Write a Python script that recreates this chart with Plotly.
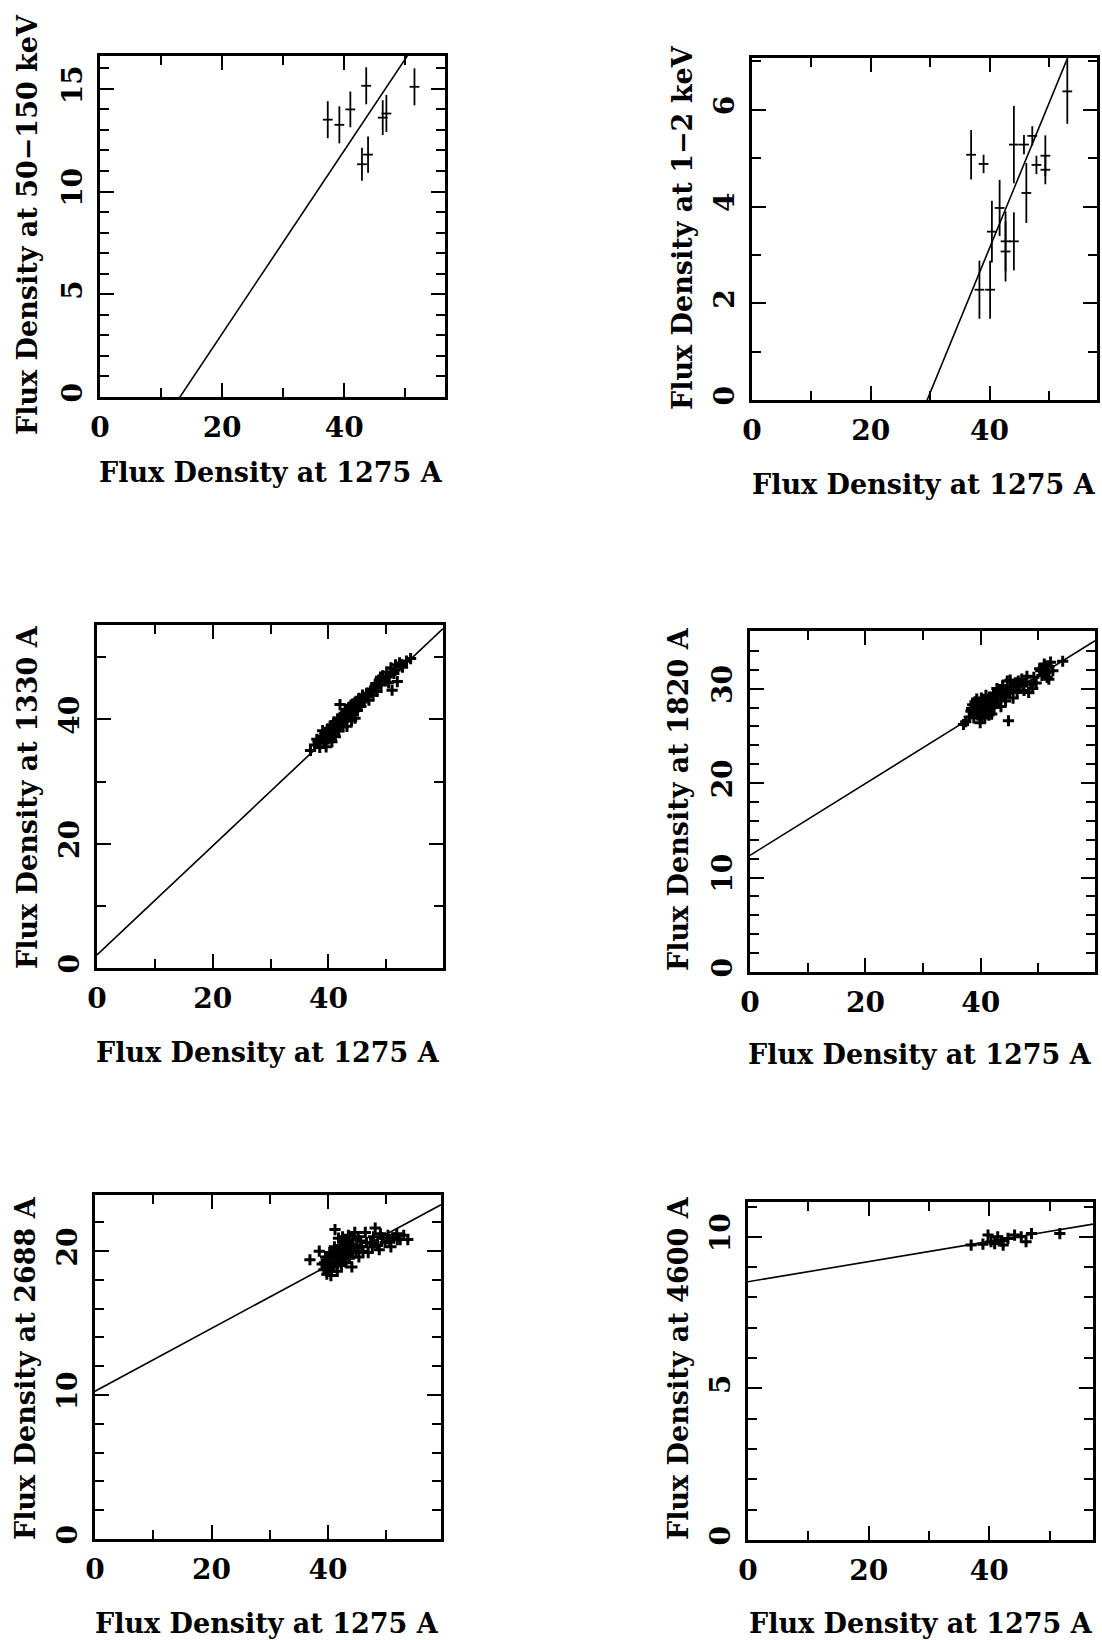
import plotly.graph_objects as go

W, H = 1102, 1640
FONT = "DejaVu Serif"

# ---------------- data ----------------
# Panel 1: 50-150 keV vs 1275 A (points with vertical error bars)
p1_x = [37.3, 39.2, 41.0, 43.6, 42.9, 43.9, 46.3, 46.9, 51.5]
p1_y = [13.5, 13.25, 14.0, 15.15, 11.33, 11.8, 13.6, 13.8, 15.1]
p1_err = [0.9, 0.9, 0.87, 0.9, 0.8, 0.88, 0.85, 0.9, 0.9]

# Panel 2: 1-2 keV vs 1275 A
p2_x = [36.9, 39.0, 38.3, 40.1, 40.4, 41.7, 42.7, 42.7, 44.1, 44.1, 45.8, 46.2, 47.2, 47.9, 49.4, 49.4, 53.1]
p2_y = [5.07, 4.88, 2.28, 2.28, 3.48, 3.97, 3.28, 3.07, 5.28, 3.28, 5.28, 4.28, 5.46, 4.86, 5.05, 4.76, 6.38]
p2_err = [0.51, 0.19, 0.6, 0.6, 0.64, 0.58, 0.62, 0.62, 0.8, 0.6, 0.2, 0.62, 0.2, 0.19, 0.42, 0.3, 0.67]

# Panel 3: 1330 A vs 1275 A
p3_x = [36.9, 37.6, 38.2, 38.5, 38.9, 39.2, 39.4, 39.6, 39.9, 40.1, 40.3, 40.5, 40.6, 40.8, 41.0,
        41.2, 41.4, 41.6, 41.8, 42.0, 42.1, 42.3, 42.5, 42.7, 42.9, 43.1, 43.2, 43.4, 43.6, 43.8,
        44.0, 44.2, 44.4, 44.6, 44.8, 45.0, 45.3, 45.6, 45.9, 46.2, 46.6, 47.0, 47.3, 47.7, 48.0,
        48.4, 48.8, 49.1, 49.4, 49.8, 50.1, 50.4, 50.8, 51.0, 51.3, 51.6, 51.9, 52.3, 52.8, 53.5, 54.2,
        38.0, 38.7, 39.0, 39.5, 39.8, 40.2, 40.4, 40.9, 41.1, 41.5, 41.9, 42.4, 42.6, 43.0, 43.5,
        43.9, 44.3, 44.7, 45.1, 45.5, 46.0, 46.8, 47.5, 48.2, 49.0, 50.0, 51.5, 52.6]
p3_y = [35.0, 35.9, 36.4, 35.5, 37.3, 36.2, 37.9, 35.6, 38.5, 36.9, 37.6, 39.0, 36.4, 38.1, 39.6,
        37.2, 38.7, 40.1, 38.2, 42.4, 39.3, 40.6, 38.8, 41.0, 39.9, 41.6, 38.9, 40.4, 42.0, 41.1,
        39.8, 42.5, 41.3, 40.2, 42.9, 41.5, 43.4, 42.1, 43.9, 42.8, 44.2, 43.1, 44.6, 43.9, 45.2,
        44.5, 46.3, 45.6, 47.0, 46.2, 47.6, 45.9, 48.3, 44.7, 47.4, 48.8, 46.1, 49.1, 48.4, 49.4, 49.8,
        36.8, 36.9, 38.2, 37.0, 37.9, 38.0, 38.6, 37.6, 38.5, 39.2, 39.6, 40.0, 39.7, 40.6, 41.2,
        42.3, 40.7, 41.8, 42.4, 43.0, 43.3, 43.7, 44.9, 45.8, 46.8, 46.9, 47.9, 48.8]

# Panel 4: 1820 A vs 1275 A
p4_x = [37.0, 37.4, 38.3, 38.6, 38.8, 39.1, 39.3, 39.5, 39.7, 39.9, 40.1, 40.3, 40.5, 40.7, 40.9,
        41.1, 41.3, 41.5, 41.7, 41.9, 42.2, 42.5, 42.8, 43.0, 43.3, 43.5, 43.8, 44.0, 44.3, 44.6,
        44.8, 45.0, 45.3, 45.6, 46.0, 46.3, 46.7, 47.1, 47.5, 47.9, 48.3, 48.7, 49.2, 49.6, 50.2,
        50.6, 51.0, 51.3, 51.6, 51.8, 52.1, 52.5, 54.2,
        38.0, 38.4, 39.0, 39.4, 39.8, 40.0, 40.2, 40.6, 40.8, 41.0, 41.4, 41.6, 42.0, 42.3, 42.7,
        43.2, 43.6, 44.1, 44.5, 45.1, 45.8, 46.5, 47.3, 48.0, 49.0, 50.4, 51.5]
p4_y = [26.2, 26.5, 27.6, 28.3, 26.9, 27.8, 28.9, 27.2, 28.5, 26.4, 29.0, 27.7, 28.2, 26.9, 29.3,
        27.5, 28.6, 27.9, 28.9, 27.3, 29.5, 28.4, 30.0, 28.8, 29.6, 28.1, 30.3, 29.2, 28.7, 30.8,
        26.6, 29.7, 30.2, 29.0, 30.6, 29.6, 30.3, 31.0, 29.8, 30.7, 29.6, 30.4, 31.2, 30.6, 32.1,
        31.4, 32.6, 31.7, 32.4, 31.0, 32.8, 31.9, 32.9,
        27.0, 27.9, 28.6, 27.4, 27.9, 28.1, 27.0, 28.8, 27.8, 28.3, 27.2, 29.1, 28.6, 28.0, 29.2,
        29.9, 29.4, 29.9, 29.5, 30.9, 30.1, 30.8, 30.4, 31.3, 30.0, 31.9, 31.2]

# Panel 5: 2688 A vs 1275 A
p5_x = [36.9, 38.5, 39.0, 39.3, 39.6, 39.8, 40.0, 40.2, 40.3, 40.5, 40.7, 40.9, 41.1, 41.2, 41.4,
        41.6, 41.8, 42.0, 42.2, 42.3, 42.5, 42.7, 42.9, 43.1, 43.3, 43.5, 43.7, 43.9, 44.1, 44.3,
        44.6, 44.8, 45.0, 45.3, 45.6, 46.0, 46.4, 46.9, 47.3, 47.8, 48.1, 48.5, 48.8, 49.3, 49.8,
        50.3, 50.8, 51.3, 51.8, 52.4, 53.0, 53.7,
        39.4, 39.7, 40.1, 40.4, 40.6, 40.8, 41.0, 41.3, 41.5, 41.7, 42.1, 42.4, 42.6, 42.8, 43.0,
        43.4, 43.8, 44.2, 44.5, 45.2, 45.8, 46.6, 47.6, 49.0, 50.5, 51.9]
p5_y = [19.4, 20.0, 19.1, 18.7, 19.6, 18.4, 19.2, 18.8, 19.9, 18.3, 19.5, 18.9, 20.3, 21.5, 19.3,
        18.6, 20.9, 19.7, 20.4, 19.0, 21.0, 19.8, 20.6, 19.2, 20.1, 21.1, 19.5, 20.3, 18.9, 20.8,
        21.3, 19.9, 20.4, 19.6, 20.7, 20.0, 21.3, 19.9, 20.6, 21.0, 21.6, 20.4, 20.1, 20.9, 20.6,
        21.1, 20.3, 20.9, 21.2, 20.8, 21.1, 20.8,
        19.2, 18.9, 19.6, 19.2, 18.6, 19.9, 19.0, 19.8, 20.1, 19.2, 20.0, 19.4, 20.2, 19.5, 20.5,
        19.8, 20.8, 19.9, 20.2, 21.0, 20.3, 20.6, 20.3, 21.2, 20.7, 20.8]

# Panel 6: 4600 A vs 1275 A
p6_x = [37.0, 38.95, 39.8, 40.3, 40.9, 41.4, 42.0, 42.3, 43.1, 44.2, 45.3, 46.1, 47.0, 51.7]
p6_y = [9.73, 9.76, 10.06, 9.84, 9.78, 10.0, 9.87, 9.73, 9.95, 10.06, 10.0, 9.84, 10.11, 10.11]

# Linear fits (intercept, slope)
fits = [(-5.84, 0.446), (-8.82, 0.299), (2.1, 0.878), (12.35, 0.380), (10.27, 0.218), (8.52, 0.0332)]

y_titles = ["Flux Density at 50\u2212150 keV", "Flux Density at 1\u22122 keV",
            "Flux Density at 1330 A", "Flux Density at 1820 A",
            "Flux Density at 2688 A", "Flux Density at 4600 A"]
x_title = "Flux Density at 1275 A"

x_ranges = [56.5, 58.1, 59.8, 59.8, 59.4, 57.2]
y_ranges = [16.6, 7.07, 55.2, 36.1, 23.9, 11.15]
y_major = [5, 2, 20, 10, 10, 5]
y_minor = [1, 1, 10, 2, 2, 1]

# ---------------- layout geometry (page pixels) ----------------
boxes = [  # left, right, top, bottom
    (100, 445, 56, 397),
    (752, 1097, 58, 400),
    (97, 443, 625, 968),
    (750, 1095, 631, 972),
    (95, 441, 1195, 1539),
    (748, 1093, 1202, 1540),
]
xtitle_pos = [(271, 473), (924, 485), (268, 1052), (920, 1054), (267, 1623), (921, 1623)]
ytitle_pos = [(27, 225), (682, 228), (27, 797), (678, 799), (25, 1368), (678, 1368)]


def fx(px):
    return px / W


def fy(py):
    return 1 - py / H


fig = go.Figure()

xs = [p1_x, p2_x, p3_x, p4_x, p5_x, p6_x]
ys = [p1_y, p2_y, p3_y, p4_y, p5_y, p6_y]
errs = [p1_err, p2_err, None, None, None, None]

for i in range(6):
    xa = "x" if i == 0 else f"x{i+1}"
    ya = "y" if i == 0 else f"y{i+1}"
    b0, b1 = fits[i]
    xr = x_ranges[i]
    fig.add_trace(go.Scatter(x=[0, xr], y=[b0, b0 + b1 * xr], mode="lines",
                             line=dict(color="black", width=1.6), xaxis=xa, yaxis=ya,
                             showlegend=False, hoverinfo="skip"))
    if errs[i] is not None:
        fig.add_trace(go.Scatter(x=xs[i], y=ys[i], mode="markers",
                                 marker=dict(symbol="line-ew", size=7, color="black",
                                             line=dict(color="black", width=1.8)),
                                 error_y=dict(type="data", array=errs[i], visible=True,
                                              color="black", thickness=1.8, width=0),
                                 xaxis=xa, yaxis=ya, showlegend=False))
    else:
        fig.add_trace(go.Scatter(x=xs[i], y=ys[i], mode="markers",
                                 marker=dict(symbol="cross-thin", size=8, color="black",
                                             line=dict(color="black", width=3)),
                                 xaxis=xa, yaxis=ya, showlegend=False))

layout = dict(width=W, height=H, margin=dict(l=0, r=0, t=0, b=0, autoexpand=False),
              paper_bgcolor="white", plot_bgcolor="white", showlegend=False,
              font=dict(family=FONT, color="black", weight="bold"))

annotations = []
for i in range(6):
    l, r, t, b = boxes[i]
    xk = "xaxis" if i == 0 else f"xaxis{i+1}"
    yk = "yaxis" if i == 0 else f"yaxis{i+1}"
    xa = "x" if i == 0 else f"x{i+1}"
    ya = "y" if i == 0 else f"y{i+1}"
    common = dict(showgrid=False, zeroline=False, showline=True, linewidth=2.5,
                  linecolor="black", mirror="ticks", ticks="inside", ticklen=14,
                  tickwidth=2, tickcolor="black", automargin=False,
                  tickfont=dict(family=FONT, size=28, color="black", weight="bold"),
                  ticklabelstandoff=4)
    layout[xk] = dict(common, domain=[fx(l), fx(r)], range=[0, x_ranges[i]], anchor=ya,
                      tickmode="linear", tick0=0, dtick=20,
                      minor=dict(dtick=10, ticklen=9, tickwidth=2, ticks="inside",
                                 tickcolor="black"))
    layout[yk] = dict(common, domain=[fy(b), fy(t)], range=[0, y_ranges[i]], anchor=xa,
                      tickmode="linear", tick0=0, dtick=y_major[i], tickangle=-90,
                      minor=dict(dtick=y_minor[i], ticklen=9, tickwidth=2, ticks="inside",
                                 tickcolor="black"))
    tx, ty = xtitle_pos[i]
    annotations.append(dict(text=x_title, x=fx(tx), y=fy(ty), xref="paper", yref="paper",
                            xanchor="center", yanchor="middle", showarrow=False,
                            font=dict(family=FONT, size=27, color="black", weight="bold")))
    yx, yy = ytitle_pos[i]
    annotations.append(dict(text=y_titles[i], x=fx(yx), y=fy(yy), xref="paper", yref="paper",
                            xanchor="center", yanchor="middle", showarrow=False, textangle=-90,
                            font=dict(family=FONT, size=27, color="black", weight="bold")))

layout["annotations"] = annotations
fig.update_layout(**layout)
# remove the default page margin so the 1102x1640 figure fills the window exactly
fig.write_html("out.html", config={"displayModeBar": False},
               post_script="document.body.style.margin='0';document.body.style.overflow='hidden';")
